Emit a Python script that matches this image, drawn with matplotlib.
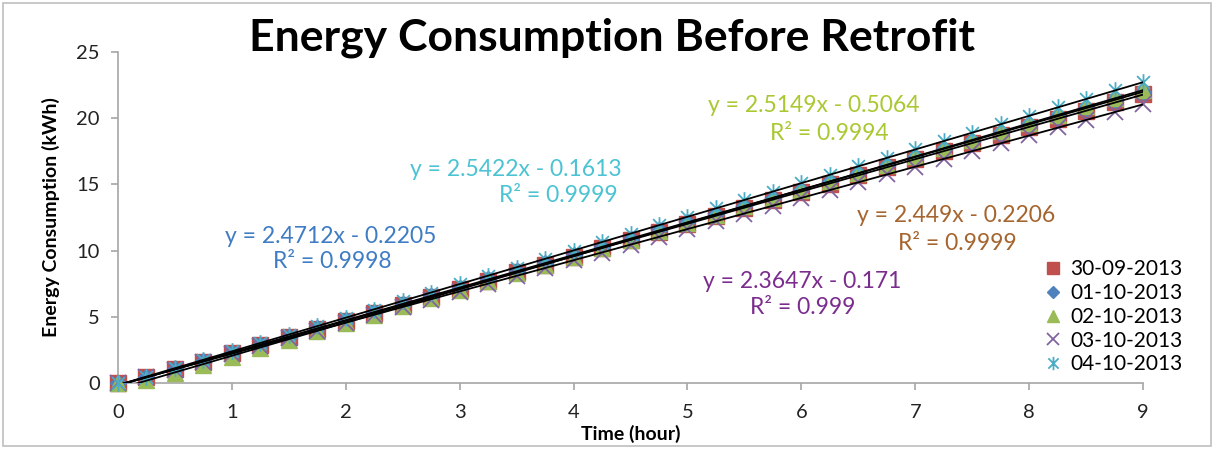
import numpy as np
import matplotlib
matplotlib.use("Agg")
import matplotlib.pyplot as plt
from matplotlib.path import Path
from matplotlib.patches import Rectangle

plt.rcParams['font.family'] = ['Lato', 'DejaVu Sans']

hours = [0, 0.25, 0.5, 0.75, 1, 1.25, 1.5, 1.75, 2, 2.25, 2.5, 2.75, 3, 3.25, 3.5, 3.75,
         4, 4.25, 4.5, 4.75, 5, 5.25, 5.5, 5.75, 6, 6.25, 6.5, 6.75, 7, 7.25, 7.5, 7.75,
         8, 8.25, 8.5, 8.75, 9]

s_30_09 = [0, 0.45, 1.05, 1.62, 2.25, 2.85, 3.48, 4.1, 4.7, 5.3, 5.92, 6.5, 7.1, 7.72, 8.35, 8.95,
           9.55, 10.18, 10.8, 11.4, 12.0, 12.62, 13.25, 13.85, 14.45, 15.05, 15.68, 16.3, 16.9,
           17.5, 18.12, 18.75, 19.35, 19.95, 20.58, 21.2, 21.85]
s_01_10 = [0, 0.42, 1.02, 1.63, 2.25, 2.87, 3.49, 4.12, 4.73, 5.35, 5.97, 6.58, 7.2, 7.82, 8.43, 9.05,
           9.67, 10.28, 10.9, 11.52, 12.13, 12.75, 13.37, 13.98, 14.6, 15.22, 15.83, 16.45, 17.07,
           17.68, 18.3, 18.92, 19.53, 20.15, 20.77, 21.38, 22.0]
s_02_10 = [0, 0.2, 0.75, 1.38, 2.0, 2.62, 3.25, 3.9, 4.5, 5.15, 5.78, 6.4, 7.05, 7.68, 8.3, 8.95,
           9.55, 10.2, 10.82, 11.45, 12.1, 12.7, 13.35, 13.98, 14.6, 15.25, 15.85, 16.5, 17.12,
           17.75, 18.38, 19.0, 19.62, 20.25, 20.9, 21.5, 22.1]
s_03_10 = [0, 0.45, 1.0, 1.6, 2.2, 2.78, 3.38, 3.95, 4.55, 5.15, 5.73, 6.3, 6.9, 7.5, 8.1, 8.68,
           9.28, 9.85, 10.45, 11.05, 11.62, 12.2, 12.8, 13.4, 13.98, 14.55, 15.15, 15.75, 16.35,
           16.9, 17.5, 18.1, 18.7, 19.3, 19.85, 20.45, 21.1]
s_04_10 = [0, 0.48, 1.1, 1.75, 2.38, 3.0, 3.65, 4.28, 4.92, 5.55, 6.2, 6.82, 7.45, 8.1, 8.72, 9.38,
           10.0, 10.65, 11.28, 11.92, 12.55, 13.2, 13.82, 14.45, 15.1, 15.72, 16.38, 17.0, 17.65,
           18.28, 18.9, 19.55, 20.18, 20.82, 21.45, 22.1, 22.72]

labels = ['30-09-2013', '01-10-2013', '02-10-2013', '03-10-2013', '04-10-2013']
equations = ['y = 2.449x - 0.2206', 'y = 2.4712x - 0.2205', 'y = 2.5149x - 0.5064',
             'y = 2.3647x - 0.171', 'y = 2.5422x - 0.1613']
r2_texts = ['R² = 0.9999', 'R² = 0.9998', 'R² = 0.9994', 'R² = 0.999', 'R² = 0.9999']

series = [s_30_09, s_01_10, s_02_10, s_03_10, s_04_10]

# Excel-style star marker (x with vertical bar)
star = Path([(-1, -1), (1, 1), (-1, 1), (1, -1), (0, -1.3), (0, 1.3)],
            [Path.MOVETO, Path.LINETO, Path.MOVETO, Path.LINETO, Path.MOVETO, Path.LINETO])

marker_colors = ['#c0504d', '#4f81bd', '#9bbb59', '#8064a2', '#4bacc6']
markers = ['s', 'D', '^', 'x', star]
msizes = [11, 8, 11, 11, 12]
text_colors = ['#a5652f', '#3e7cc3', '#a9c832', '#7b2d8e', '#4cc3d3']

W, H = 1215, 449
fig = plt.figure(figsize=(W / 100, H / 100), dpi=100)
fig.patch.set_facecolor('white')
fig.patches.append(Rectangle((3 / W, 3 / H), 1 - 7 / W, 1 - 6 / H, transform=fig.transFigure,
                             fill=False, edgecolor='#bfbfbf', linewidth=1.2))

ax = fig.add_axes([118 / W, 1 - 383 / H, (1143 - 118) / W, (383 - 52) / H])

for s, lab, c, m, ms in zip(series, labels, marker_colors, markers, msizes):
    if m in ('x',) or m is star:
        ax.plot(hours, s, linestyle='none', marker=m, markersize=ms, color=c,
                markeredgewidth=1.3, label=lab, zorder=3, clip_on=False)
    else:
        ax.plot(hours, s, linestyle='none', marker=m, markersize=ms, color=c,
                markeredgecolor=c, label=lab, zorder=3, clip_on=False)

xs = np.array([hours[0], hours[-1]])
for s in series:
    k, b = np.polyfit(hours, s, 1)
    ax.plot(xs, k * xs + b, color='black', linewidth=1.3, zorder=4)

ax.set_xlim(0, 9)
ax.set_ylim(0, 25)
ax.set_xticks(range(0, 10))
ax.set_yticks(range(0, 26, 5))
for side in ('top', 'right'):
    ax.spines[side].set_visible(False)
for side in ('left', 'bottom'):
    ax.spines[side].set_color('#a6a6a6')
    ax.spines[side].set_linewidth(1.2)
ax.tick_params(axis='both', direction='out', length=5, width=1.2, color='#a6a6a6',
               labelsize=14.5, labelcolor='#222222')
ax.tick_params(axis='x', pad=10)
ax.tick_params(axis='y', pad=8)

ax.set_xlabel('Time (hour)', fontsize=14, fontweight='bold', labelpad=3)
ax.set_ylabel('Energy Consumption (kWh)', fontsize=14, fontweight='bold', labelpad=12)

fig.text(612 / W, 1 - 38 / H, 'Energy Consumption Before Retrofit', fontsize=32,
         fontweight='bold', ha='center', va='center')

# trendline labels (pixel positions of equation and R² lines)
eq_pos = [(956, 216, 957, 243), (331, 237, 332, 262), (814, 106, 829, 134),
          (802, 281, 803, 308), (516, 170, 558, 196)]
for (ex, ey, rx, ry), eq, r2, c in zip(eq_pos, equations, r2_texts, text_colors):
    fig.text(ex / W, 1 - ey / H, eq, fontsize=16.5, color=c, ha='center', va='center')
    fig.text(rx / W, 1 - ry / H, r2, fontsize=16.5, color=c, ha='center', va='center')

leg = ax.legend(loc='upper left', bbox_to_anchor=(1034 / W, 1 - 249 / H),
                bbox_transform=fig.transFigure, frameon=False, fontsize=15,
                handlelength=0.8, handletextpad=0.45, labelspacing=0.18, borderpad=0,
                markerscale=0.8)

fig.savefig('out.png', dpi=100, facecolor='white')
